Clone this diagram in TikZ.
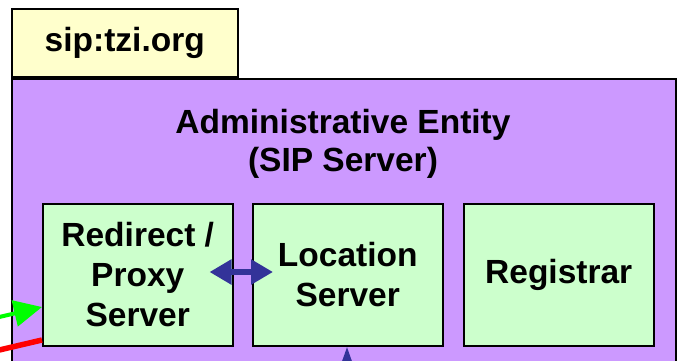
\documentclass[tikz,border=0pt]{standalone}
\usepackage{fontspec}
\setmainfont{Liberation Sans}
\usetikzlibrary{arrows.meta}
\definecolor{yel}{HTML}{FFFFCC}
\definecolor{purp}{HTML}{CC99FF}
\definecolor{grn}{HTML}{CCFFCC}
\definecolor{navy}{HTML}{333399}
\begin{document}
\begin{tikzpicture}[x=1pt,y=-1pt,
  box/.style={draw=black,line width=1.5pt,inner sep=0pt,anchor=north west,
    font=\fontsize{33.5}{40}\selectfont\bfseries,align=center},
  txt/.style={font=\fontsize{33.5}{38}\selectfont\bfseries,align=center,inner sep=0pt}]
\useasboundingbox (0,0) rectangle (683,360);
\node[box,fill=purp,minimum width=664pt,minimum height=300pt] (ae) at (11,78) {};
\node[box,fill=yel,minimum width=226pt,minimum height=68pt] (sip) at (11,8) {sip:tzi.org};
\node[txt] (title) at (343,144) {Administrative Entity\\(SIP Server)};
\node[box,fill=grn,minimum width=190pt,minimum height=142pt] (rp) at (42,203) {Redirect /\\Proxy\\Server};
\node[box,fill=grn,minimum width=190pt,minimum height=142pt] (ls) at (252,203) {Location\\Server};
\node[box,fill=grn,minimum width=190pt,minimum height=142pt] (reg) at (463,203) {Registrar};
\draw[navy,line width=6pt,{Triangle[length=22pt,width=24pt]}-{Triangle[length=22pt,width=24pt]},
  shorten <=-24pt,shorten >=-21pt] (rp.east|-0,272) -- (ls.west|-0,272);
\coordinate (lsin) at (347,385);
\draw[navy,line width=6pt,-{Triangle[length=40pt,width=26pt]}] (lsin) -- (ls.south-|lsin);
\coordinate (gin) at (-5,318);
\draw[green,line width=4pt,-{Triangle[length=28pt,width=26pt]}] (gin) -- (rp.west|-0,307);
\coordinate (rin) at (-5,351);
\draw[red,line width=5.5pt] (rin) -- (rp.west|-0,340);
\end{tikzpicture}
\end{document}
